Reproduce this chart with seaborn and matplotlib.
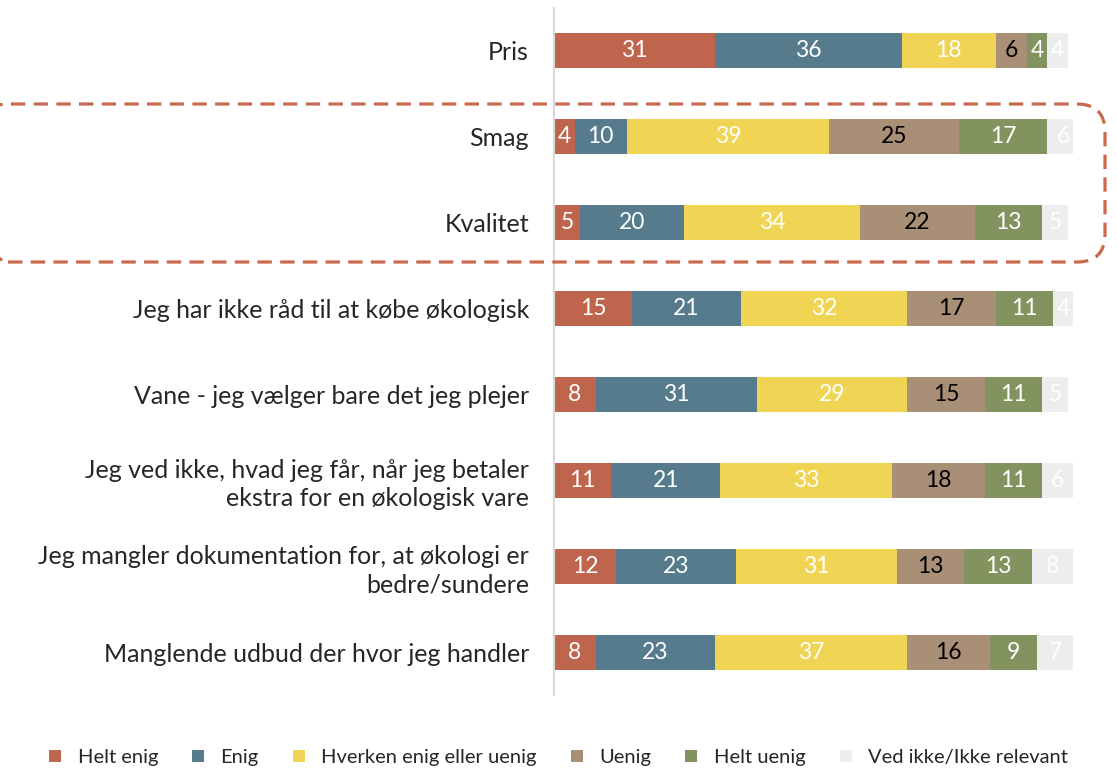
import pandas as pd
import matplotlib.pyplot as plt
import seaborn as sns
from matplotlib.patches import Patch, FancyBboxPatch

# -----------------------------
# Data
# -----------------------------
statements = [
    "Pris",
    "Smag",
    "Kvalitet",
    "Jeg har ikke råd til at købe økologisk",
    "Vane - jeg vælger bare det jeg plejer",
    "Jeg ved ikke, hvad jeg får, når jeg betaler\nekstra for en økologisk vare",
    "Jeg mangler dokumentation for, at økologi er\nbedre/sundere",
    "Manglende udbud der hvor jeg handler",
]
answers = ["Helt enig", "Enig", "Hverken enig eller uenig", "Uenig", "Helt uenig", "Ved ikke/Ikke relevant"]

helt_enig = [31, 4, 5, 15, 8, 11, 12, 8]
enig = [36, 10, 20, 21, 31, 21, 23, 23]
hverken = [18, 39, 34, 32, 29, 33, 31, 37]
uenig = [6, 25, 22, 17, 15, 18, 13, 16]
helt_uenig = [4, 17, 13, 11, 11, 11, 13, 9]
ved_ikke = [4, 6, 5, 4, 5, 6, 8, 7]

colors = ["#C0654D", "#557B8C", "#F0D554", "#A88F76", "#83935F", "#EDEDED"]
label_colors = ["white", "white", "white", "black", "white", "white"]

df = pd.DataFrame(
    [helt_enig, enig, hverken, uenig, helt_uenig, ved_ikke],
    index=answers, columns=statements,
).T
cum = df.cumsum(axis=1)

# -----------------------------
# Settings
# -----------------------------
sns.set_theme(style="white")
plt.rcParams["font.family"] = ["Lato", "DejaVu Sans"]

fig = plt.figure(figsize=(11.17, 7.7), dpi=100)
ax = fig.add_axes([0.496, 0.097, 0.465, 0.893])

# draw stacked bars back to front
for i in range(len(answers) - 1, -1, -1):
    sns.barplot(
        x=cum[answers[i]].values,
        y=statements,
        orient="h",
        color=colors[i],
        width=0.4,
        saturation=1,
        linewidth=0,
        ax=ax,
    )

for i, ans in enumerate(answers):
    starts = cum[ans] - df[ans]
    for j, st in enumerate(statements):
        v = df.loc[st, ans]
        ax.text(starts[st] + v / 2, j, str(v), ha="center", va="center",
                fontsize=16.5, color=label_colors[i])

ax.set_xlim(0, 100)
ax.set_ylim(7.5, -0.5)
ax.set_xlabel("")
ax.set_ylabel("")
ax.set_xticks([])
ax.tick_params(axis="y", length=0, pad=18, labelsize=18)
for lbl in ax.get_yticklabels():
    lbl.set_horizontalalignment("right")
    lbl.set_linespacing(1.25)
for s in ["top", "right", "bottom"]:
    ax.spines[s].set_visible(False)
ax.spines["left"].set_color("#D9D9D9")
ax.spines["left"].set_linewidth(1.5)

# highlight box around Smag / Kvalitet
box = FancyBboxPatch(
    (-0.2, 5.08), 11.25, 1.58,
    boxstyle="round,pad=0,rounding_size=0.28",
    transform=fig.dpi_scale_trans,
    fill=False, edgecolor="#C9694D", linewidth=2.3,
    linestyle=(0, (4.5, 2.6)), clip_on=False,
)
fig.patches.append(box)

handles = [Patch(facecolor=c, edgecolor="none") for c in colors]
fig.legend(
    handles, answers, loc="center", bbox_to_anchor=(0.5, 0.016), ncol=6,
    frameon=False, fontsize=14.5, handlelength=0.6, handleheight=0.6,
    columnspacing=1.7, handletextpad=0.8,
)

fig.savefig("out.png", dpi=100)
